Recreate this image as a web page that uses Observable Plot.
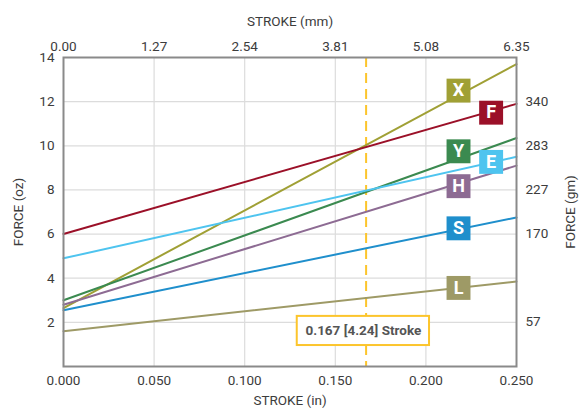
<!DOCTYPE html>
<html><head><meta charset="utf-8">
<script src="https://cdn.jsdelivr.net/npm/d3@7"></script>
<script src="https://cdn.jsdelivr.net/npm/@observablehq/plot@0.6"></script>
<style>body{margin:0;background:#fff}svg{display:block}</style>
</head><body><div id="chart"></div>
<script>
const series = ["X", "F", "Y", "E", "H", "S", "L"];
const strokeRange = [0, 0.25];
const forceStart = [2.65, 6.0, 3.0, 4.9, 2.8, 2.55, 1.6];
const forceEnd = [13.7, 11.9, 10.35, 9.5, 9.1, 6.75, 3.85];
const colors = ["#a0a035", "#9b1028", "#3b8a50", "#4ec4ef", "#8d6b93", "#1f8fcc", "#9e9a66"];
const labelStroke = [0.218, 0.236, 0.218, 0.236, 0.218, 0.218, 0.218];
const labelForce = [12.5, 11.5, 9.75, 9.27, 8.17, 6.26, 3.56];
const xTicks = [0, 0.05, 0.1, 0.15, 0.2, 0.25];
const yTicks = [2, 4, 6, 8, 10, 12, 14];
const gmTicks = [57, 170, 227, 283, 340];
const markerIn = 0.167;
const markerMm = 4.24;
const noteBox = {x1: 0.129, x2: 0.202, y1: 0.95, y2: 2.27};

const lineData = series.flatMap((name, i) => [
  {name, x: strokeRange[0], y: forceStart[i]},
  {name, x: strokeRange[1], y: forceEnd[i]}
]);
const labels = series.map((name, i) => ({name, x: labelStroke[i], y: labelForce[i]}));

const axisCommon = {tickSize: 0, labelArrow: "none", labelAnchor: "center", fill: "#3c3c3c", fontSize: 13.5};

const chart = Plot.plot({
  width: 587, height: 410,
  marginLeft: 63, marginRight: 71, marginTop: 57, marginBottom: 44,
  style: {fontFamily: "Roboto, sans-serif", fontSize: "13.5px", color: "#3c3c3c", background: "#fff"},
  x: {domain: strokeRange},
  y: {domain: [0, 14]},
  color: {domain: series, range: colors},
  marks: [
    Plot.gridX(xTicks.slice(1, -1), {stroke: "#dcdcdc", strokeOpacity: 1, strokeWidth: 1.2}),
    Plot.gridY(yTicks.slice(0, -1), {stroke: "#dcdcdc", strokeOpacity: 1, strokeWidth: 1.2}),
    Plot.ruleX([markerIn], {stroke: "#fcc52c", strokeWidth: 2, strokeDasharray: "10,6"}),
    Plot.line(lineData, {x: "x", y: "y", z: "name", stroke: "name", strokeWidth: 2}),
    Plot.dot(labels, {x: "x", y: "y", symbol: "square", r: 13.5, fill: "name", stroke: "none"}),
    Plot.text(labels, {x: "x", y: "y", text: "name", fill: "white", fontWeight: "bold", fontSize: 18}),
    Plot.rect([noteBox], {x1: "x1", x2: "x2", y1: "y1", y2: "y2", fill: "white", stroke: "#fcc52c", strokeWidth: 2}),
    Plot.text([{x: (noteBox.x1 + noteBox.x2) / 2, y: (noteBox.y1 + noteBox.y2) / 2}], {
      x: "x", y: "y", text: () => `${markerIn.toFixed(3)} [${markerMm.toFixed(2)}] Stroke`,
      fill: "#555", fontWeight: "bold", fontSize: 13.5
    }),
    Plot.frame({stroke: "#8a8a8a", strokeWidth: 2}),
    Plot.axisX(xTicks, {...axisCommon, anchor: "bottom", tickPadding: 9, tickFormat: d => d.toFixed(3), label: "STROKE (in)", labelOffset: 38}),
    Plot.axisX(xTicks, {...axisCommon, anchor: "top", tickPadding: 7, tickFormat: d => (d * 25.4).toFixed(2), label: "STROKE (mm)", labelOffset: 41}),
    Plot.axisY(yTicks, {...axisCommon, anchor: "left", tickPadding: 9, label: "FORCE (oz)", labelOffset: 50}),
    Plot.axisY(gmTicks.map(g => g / 28.3495), {...axisCommon, anchor: "right", tickPadding: 9, tickFormat: d => String(Math.round(d * 28.3495)), label: "FORCE (gm)", labelOffset: 58})
  ]
});
document.getElementById("chart").appendChild(chart);
</script></body></html>
